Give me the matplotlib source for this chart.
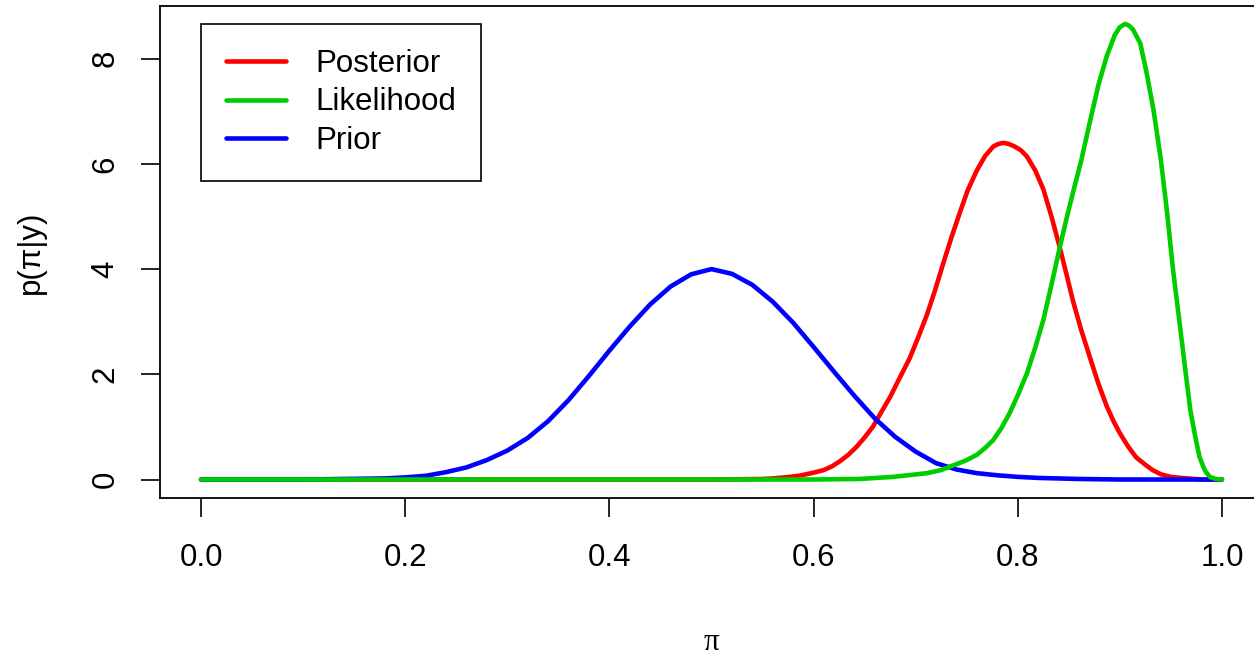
import matplotlib
matplotlib.use("Agg")
import matplotlib.pyplot as plt

# values (x = pi, y = density)
prior_x = [0.0, 0.10, 0.14, 0.16, 0.18, 0.20, 0.22, 0.24, 0.26, 0.28,
           0.30, 0.32, 0.34, 0.36, 0.38, 0.40, 0.42, 0.44, 0.46, 0.48,
           0.50, 0.52, 0.54, 0.56, 0.58, 0.60, 0.62, 0.64, 0.66, 0.68,
           0.70, 0.72, 0.74, 0.76, 0.78, 0.80, 0.82, 0.84, 0.86, 0.90, 1.0]
prior_y = [0.0, 0.0, 0.01, 0.015, 0.02, 0.04, 0.07, 0.14, 0.23, 0.37,
           0.55, 0.79, 1.11, 1.51, 1.97, 2.45, 2.91, 3.33, 3.67, 3.90,
           4.00, 3.91, 3.70, 3.38, 2.98, 2.52, 2.05, 1.59, 1.16, 0.81,
           0.53, 0.31, 0.19, 0.12, 0.08, 0.05, 0.03, 0.02, 0.01, 0.0, 0.0]

post_x = [0.0, 0.50, 0.55, 0.56, 0.577, 0.585, 0.593, 0.60, 0.610, 0.618,
          0.626, 0.634, 0.642, 0.650, 0.658, 0.666, 0.675, 0.684, 0.694, 0.702,
          0.711, 0.719, 0.727, 0.735, 0.743, 0.751, 0.760, 0.768, 0.776, 0.781,
          0.786, 0.791, 0.797, 0.803, 0.809, 0.817, 0.825, 0.833, 0.841, 0.848,
          0.854, 0.862, 0.871, 0.879, 0.887, 0.894, 0.900, 0.908, 0.916, 0.925,
          0.932, 0.940, 0.950, 0.960, 0.98, 1.0]
post_y = [0.0, 0.0, 0.01, 0.02, 0.05, 0.07, 0.10, 0.13, 0.18, 0.25,
          0.35, 0.47, 0.62, 0.80, 1.00, 1.27, 1.57, 1.92, 2.30, 2.68,
          3.13, 3.60, 4.11, 4.60, 5.06, 5.50, 5.88, 6.15, 6.33, 6.38,
          6.40, 6.38, 6.33, 6.26, 6.14, 5.88, 5.52, 5.00, 4.42, 3.88,
          3.40, 2.85, 2.30, 1.82, 1.40, 1.10, 0.88, 0.63, 0.42, 0.28,
          0.18, 0.10, 0.05, 0.03, 0.0, 0.0]

lik_x = [0.0, 0.60, 0.645, 0.678, 0.711, 0.725, 0.737, 0.749, 0.760, 0.768,
         0.776, 0.784, 0.792, 0.800, 0.809, 0.817, 0.825, 0.833, 0.841, 0.848,
         0.854, 0.862, 0.871, 0.879, 0.887, 0.895, 0.900, 0.905, 0.909, 0.913,
         0.920, 0.926, 0.933, 0.940, 0.946, 0.952, 0.959, 0.964, 0.969, 0.974,
         0.978, 0.983, 0.988, 0.994, 1.0]
lik_y = [0.0, 0.0, 0.01, 0.05, 0.12, 0.18, 0.27, 0.36, 0.47, 0.60,
         0.75, 0.98, 1.26, 1.60, 2.02, 2.50, 3.03, 3.70, 4.40, 4.98,
         5.45, 6.05, 6.83, 7.50, 8.04, 8.45, 8.60, 8.66, 8.63, 8.55,
         8.29, 7.75, 7.02, 6.10, 5.12, 4.00, 2.90, 2.10, 1.32, 0.80,
         0.43, 0.18, 0.05, 0.01, 0.0]

x_ticks = [0.0, 0.2, 0.4, 0.6, 0.8, 1.0]
x_labels = ["0.0", "0.2", "0.4", "0.6", "0.8", "1.0"]
y_ticks = [0, 2, 4, 6, 8]

plt.rcParams['font.family'] = ['Liberation Sans', 'DejaVu Sans']
fs = 22.5

W, H = 1254, 655
fig = plt.figure(figsize=(W / 100, H / 100), dpi=100)
ax = fig.add_axes([160.2 / W, 1 - 497.7 / H, 1102.6 / W, 491.4 / H])

lw = 3.3
l_post, = ax.plot(post_x, post_y, color='#FF0000', lw=lw,
                  solid_capstyle='round', solid_joinstyle='round')
l_prior, = ax.plot(prior_x, prior_y, color='#0000FF', lw=lw,
                   solid_capstyle='round', solid_joinstyle='round')
l_lik, = ax.plot(lik_x, lik_y, color='#00CD00', lw=lw,
                 solid_capstyle='round', solid_joinstyle='round')

ax.set_xlim(-0.04, 1.04)
ax.set_ylim(-0.346, 8.996)

ax.set_xticks(x_ticks)
ax.set_xticklabels(x_labels)
ax.set_yticks(y_ticks)
ax.tick_params(axis='both', direction='out', length=13.5, width=1.2,
               labelsize=fs, color='black')
ax.tick_params(axis='x', pad=19)
ax.tick_params(axis='y', pad=15, labelrotation=90)
for lbl in ax.get_yticklabels():
    lbl.set_va('center')
for s in ax.spines.values():
    s.set_linewidth(1.3)

leg = ax.legend([l_post, l_lik, l_prior], ["Posterior", "Likelihood", "Prior"],
                loc='upper left', bbox_to_anchor=((201 - 160.2) / 1102.6, 1 - (24 - 6.3) / 491.4),
                borderaxespad=0, fontsize=fs, frameon=True, fancybox=False,
                edgecolor='black', framealpha=1, handlelength=1.92,
                handletextpad=0.93, labelspacing=0.27, borderpad=0.8)
leg.get_frame().set_linewidth(1.2)

fig.text(31 / W, 1 - 252 / H, "p(π|y)", rotation=90, ha='center', va='center', fontsize=fs)
fig.text(711.5 / W, 1 - 650 / H, "π", ha='center', va='baseline', fontsize=fs,
         family=['Liberation Serif', 'DejaVu Serif'])

fig.savefig("out.png", dpi=100)
